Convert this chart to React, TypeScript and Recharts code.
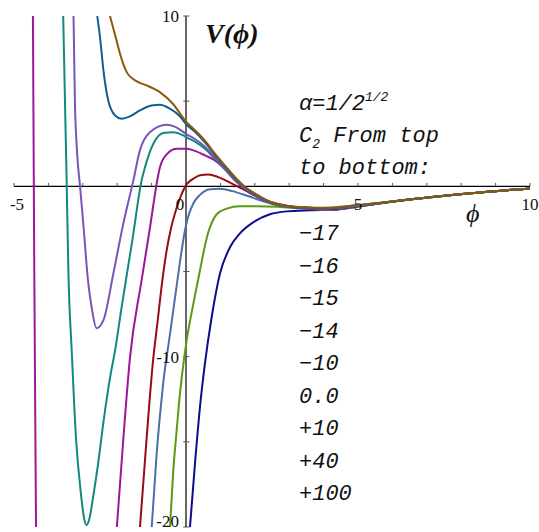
import React from 'react';
import { LineChart, Line, XAxis, YAxis, ReferenceLine, ReferenceDot } from 'recharts';

type P = { x: number; y: number };
const pts = (a: number[][]): P[] => a.map(([x, y]) => ({ x, y }));

// C2 = -17 (brown)
const c2m17 = pts([[-2.21,10],[-2.12,9.33],[-2.02,8.56],[-1.92,7.80],[-1.82,7.16],[-1.72,6.69],[-1.54,6.30],[-1.34,6.07],[-1.14,5.92],[-0.76,5.53],[-0.37,4.82],[0,3.80],[0.26,3.30],[0.55,2.68],[0.84,1.92],[1.13,1.23],[1.42,0.55],[1.72,-0.04],[2.01,-0.43],[2.30,-0.76],[2.59,-1.01],[2.88,-1.13],[3.31,-1.22],[3.80,-1.26],[4.19,-1.25],[4.97,-1.11],[6.31,-0.82],[8.26,-0.41],[10,-0.12]]);
// C2 = -16
const c2m16 = pts([[-2.58,10],[-2.50,8.76],[-2.40,6.80],[-2.26,5.04],[-2.06,4.16],[-1.87,3.97],[-1.63,4.11],[-1.34,4.46],[-1.00,4.75],[-0.76,4.79],[-0.47,4.56],[-0.17,4.10],[0,3.66],[0.26,3.20],[0.55,2.58],[0.84,1.85],[1.13,1.17],[1.42,0.50],[1.72,-0.07],[2.01,-0.46],[2.30,-0.78],[2.59,-1.02],[2.88,-1.14],[3.31,-1.22],[3.80,-1.27],[4.19,-1.26],[4.97,-1.11],[6.31,-0.82],[8.26,-0.41],[10,-0.12]]);
// C2 = -15
const c2m15 = pts([[-3.27,10],[-3.23,5.04],[-3.17,2.11],[-3.08,0],[-2.97,-2.58],[-2.85,-5.51],[-2.73,-7.27],[-2.60,-8.33],[-2.40,-7.86],[-2.11,-5.10],[-1.82,-2.17],[-1.53,0.35],[-1.34,2.11],[-1.05,3.18],[-0.56,3.62],[-0.27,3.45],[0.02,3.05],[0.26,2.78],[0.55,2.33],[0.84,1.70],[1.13,1.08],[1.42,0.44],[1.72,-0.10],[2.01,-0.49],[2.30,-0.80],[2.59,-1.04],[2.88,-1.15],[3.31,-1.23],[3.80,-1.28],[4.19,-1.28],[4.97,-1.13],[6.31,-0.82],[8.26,-0.41],[10,-0.12]]);
// C2 = -14
const c2m14 = pts([[-3.57,10],[-3.47,0.35],[-3.42,-4.93],[-3.32,-9.74],[-3.20,-14.72],[-3.05,-18.12],[-2.97,-19.41],[-2.89,-19.88],[-2.81,-19.53],[-2.70,-18.24],[-2.56,-16.36],[-2.40,-13.84],[-2.21,-11.26],[-2.06,-9.62],[-1.87,-7.08],[-1.56,-3.17],[-1.29,0.35],[-1.19,1.13],[-0.95,2.50],[-0.66,3.13],[-0.37,3.18],[-0.08,2.99],[0.04,2.85],[0.26,2.62],[0.55,2.20],[0.84,1.62],[1.13,1.03],[1.42,0.40],[1.72,-0.13],[2.01,-0.52],[2.30,-0.82],[2.59,-1.05],[2.88,-1.16],[3.31,-1.24],[3.80,-1.29],[4.19,-1.29],[4.97,-1.14],[6.31,-0.82],[8.26,-0.41],[10,-0.12]]);
// C2 = -10
const c2m10 = pts([[-2.01,-20],[-1.82,-14.78],[-1.63,-10.09],[-1.29,-5.51],[-1.05,-2.46],[-0.85,0.18],[-0.76,1.11],[-0.56,1.88],[-0.27,2.21],[0.02,2.20],[0.26,2.08],[0.55,1.82],[0.84,1.52],[1.13,1.00],[1.42,0.35],[1.72,-0.18],[2.01,-0.55],[2.30,-0.85],[2.59,-1.06],[2.88,-1.17],[3.31,-1.26],[3.80,-1.31],[4.19,-1.31],[4.97,-1.15],[6.31,-0.82],[8.26,-0.41],[10,-0.12]]);
const c2m10Left = pts([[-4.45,10],[-4.41,-5],[-4.36,-20]]);
// C2 = 0.0
const c2zero = pts([[-1.337,-20],[-1.142,-14.72],[-0.951,-10.09],[-0.828,-7.98],[-0.712,-5.92],[-0.561,-3.75],[-0.436,-2.46],[-0.320,-1.58],[-0.174,-0.70],[-0.078,-0.23],[0.02,0.12],[0.116,0.32],[0.212,0.45],[0.41,0.65],[0.65,0.69],[0.89,0.58],[1.13,0.37],[1.42,0.07],[1.72,-0.24],[2.01,-0.55],[2.30,-0.82],[2.73,-1.05],[3.31,-1.26],[4.19,-1.35],[4.97,-1.17],[6.31,-0.82],[8.26,-0.41],[10,-0.12]]);
// C2 = +10
const c2p10 = pts([[-0.997,-20],[-0.852,-15.66],[-0.756,-13.43],[-0.660,-11.50],[-0.465,-8.68],[-0.270,-5.81],[-0.125,-3.75],[-0.029,-2.58],[0.058,-1.82],[0.212,-1.01],[0.407,-0.50],[0.70,-0.17],[1.0,-0.14],[1.35,-0.28],[1.80,-0.57],[2.20,-0.85],[2.60,-1.08],[3.41,-1.31],[4.19,-1.37],[4.97,-1.20],[6.31,-0.82],[8.26,-0.41],[10,-0.12]]);
// C2 = +40
const c2p40 = pts([[-0.465,-20],[-0.369,-16.66],[-0.276,-14.43],[-0.203,-12.73],[-0.116,-11.09],[0.02,-9.03],[0.166,-7.39],[0.291,-6.10],[0.407,-4.93],[0.523,-3.75],[0.648,-2.70],[0.756,-2.11],[0.892,-1.64],[1.183,-1.31],[1.57,-1.17],[2.06,-1.17],[2.73,-1.21],[3.70,-1.33],[4.19,-1.37],[4.97,-1.20],[6.31,-0.82],[8.26,-0.41],[10,-0.12]]);
// C2 = +100
const c2p100 = pts([[0.116,-20],[0.262,-16.25],[0.407,-12.94],[0.552,-10.38],[0.747,-7.67],[0.988,-5.12],[1.279,-3.58],[1.57,-2.76],[1.956,-2.11],[2.44,-1.64],[2.93,-1.47],[3.60,-1.41],[4.38,-1.37],[4.97,-1.20],[6.31,-0.82],[8.26,-0.41],[10,-0.12]]);

const legendLabels = ['\u221217', '\u221216', '\u221215', '\u221214', '\u221210', '0.0', '+10', '+40', '+100'];
const xTickLabels = [-5, 0, 5, 10];
const yTickLabels = [10, -10, -20];
const xMinorTicks = [-5,-4,-3,-2,-1,1,2,3,4,5,6,7,8,9,10];
const yMinorTicks = [10, 5, -5, -10, -15, -20];

const series = [
  { key: 'p100', data: c2p100, color: '#0c0c8f' },
  { key: 'p40', data: c2p40, color: '#5b9a12' },
  { key: 'p10', data: c2p10, color: '#4c6fa8' },
  { key: 'zero', data: c2zero, color: '#960d12' },
  { key: 'm10', data: c2m10, color: '#9c169c' },
  { key: 'm10l', data: c2m10Left, color: '#9c169c' },
  { key: 'm14', data: c2m14, color: '#108a7c' },
  { key: 'm15', data: c2m15, color: '#7a54b6' },
  { key: 'm16', data: c2m16, color: '#125e92' },
  { key: 'm17', data: c2m17, color: '#8a5a0c' },
];

const TickLabel = (props: any) => {
  const { viewBox, text, dx = 0, dy = 0, anchor = 'middle' } = props;
  if (!viewBox) return null;
  return (
    <text x={viewBox.x + dx} y={viewBox.y + dy} textAnchor={anchor}
      fontFamily="'Liberation Serif', 'Times New Roman', serif" fontSize={17} fill="#111">
      {text}
    </text>
  );
};

const mono = "'Liberation Mono', 'Courier New', monospace";

export default function App() {
  return (
    <div style={{ position: 'absolute', left: 0, top: 0, width: 539, height: 532, background: '#fff' }}>
      <LineChart width={539} height={532} margin={{ top: 16, right: 9, bottom: 5, left: 14 }}>
        <XAxis type="number" dataKey="x" domain={[-5, 10]} allowDataOverflow hide />
        <YAxis type="number" dataKey="y" domain={[-20, 10]} allowDataOverflow hide />
        <ReferenceLine y={0} stroke="#000" strokeWidth={1.2} />
        <ReferenceLine x={0} stroke="#000" strokeWidth={1.2} />
        {xMinorTicks.map((t) => (
          <ReferenceLine key={'xt' + t} segment={[{ x: t, y: 0 }, { x: t, y: 0.2 }]} stroke="#555" strokeWidth={1} />
        ))}
        {yMinorTicks.map((t) => (
          <ReferenceLine key={'yt' + t} segment={[{ x: -0.08, y: t }, { x: 0.1, y: t }]} stroke="#555" strokeWidth={1} />
        ))}
        {xTickLabels.map((t) => (
          <ReferenceDot key={'xl' + t} x={t} y={0} r={0} fill="none" stroke="none"
            label={<TickLabel text={t < 0 ? '-' + Math.abs(t) : String(t)} dx={t === 0 ? -6 : t === -5 ? 3 : 0} dy={24} />} />
        ))}
        {yTickLabels.map((t) => (
          <ReferenceDot key={'yl' + t} x={0} y={t} r={0} fill="none" stroke="none"
            label={<TickLabel text={t < 0 ? '-' + Math.abs(t) : String(t)} dx={-7} dy={t === -20 ? 0 : 6} anchor="end" />} />
        ))}
        {series.map((s) => (
          <Line key={s.key} data={s.data} dataKey="y" type="monotone" stroke={s.color} strokeWidth={2}
            dot={false} isAnimationActive={false} />
        ))}
      </LineChart>
      <svg width={539} height={532} style={{ position: 'absolute', left: 0, top: 0, pointerEvents: 'none' }}>
        <text x={205} y={43} fontFamily="'Liberation Serif', 'Times New Roman', serif" fontSize={28}
          fontWeight="bold" fontStyle="italic" fill="#111">V(ϕ)</text>
        <text x={466} y={222} fontFamily="'Liberation Serif', 'Times New Roman', serif" fontSize={26}
          fontStyle="italic" fill="#111">ϕ</text>
        <text x={299} y={110} fontFamily={mono} fontSize={22} fontStyle="italic" fill="#111">
          α=1/2<tspan dy={-9} fontSize={13}>1/2</tspan>
        </text>
        <text x={299} y={142} fontFamily={mono} fontSize={22} fontStyle="italic" fill="#111">
          C<tspan dy={6} fontSize={13}>2</tspan><tspan dy={-6}> From top</tspan>
        </text>
        <text x={299} y={174} fontFamily={mono} fontSize={22} fontStyle="italic" fill="#111">to bottom:</text>
        {legendLabels.map((l, i) => (
          <text key={l} x={299} y={240 + i * 32.5} fontFamily={mono} fontSize={22} fontStyle="italic" fill="#111">{l}</text>
        ))}
      </svg>
    </div>
  );
}
